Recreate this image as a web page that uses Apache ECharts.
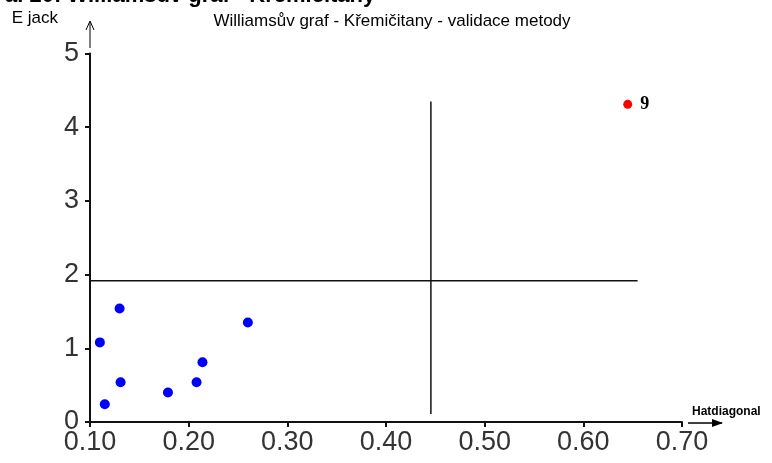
<!DOCTYPE html>
<html>
<head>
<meta charset="utf-8">
<script src="https://cdn.jsdelivr.net/npm/echarts@6/dist/echarts.min.js"></script>
<style>
  html, body { margin: 0; padding: 0; background: #fff; }
  #chart { width: 772px; height: 463px; }
</style>
</head>
<body>
<div id="chart"></div>
<script>
// leverage (hat diagonal) vs. jackknife residual
const inliers = [
  [0.130, 1.54],
  [0.110, 1.08],
  [0.260, 1.35],
  [0.214, 0.81],
  [0.131, 0.54],
  [0.208, 0.54],
  [0.179, 0.40],
  [0.115, 0.24]
];
const outliers = [[0.645, 4.31]];
const outlierLabels = ["9"];
const hatLimit = 0.4455;
const hatLimitRange = [0.11, 4.35];
const residLimit = 1.915;
const residLimitRange = [0.10, 0.655];
const xTicks = { min: 0.10, max: 0.70, step: 0.10 };
const yTicks = { min: 0, max: 5, step: 1 };

const chart = echarts.init(document.getElementById("chart"));
const font = "'Liberation Sans', Arial, sans-serif";

chart.setOption({
  animation: false,
  backgroundColor: "#fff",
  title: [
    {
      text: "al 20: Williamsův graf - Křemičitany",
      left: 0,
      top: -20,
      textStyle: { fontFamily: font, fontSize: 22, fontWeight: "bold", color: "#000" }
    },
    {
      text: "Williamsův graf - Křemičitany - validace metody",
      left: 387,
      textAlign: "center",
      top: 8,
      textStyle: { fontFamily: font, fontSize: 17, fontWeight: "normal", color: "#000" }
    }
  ],
  grid: { left: 90, right: 90, top: 53.5, bottom: 41 },
  xAxis: {
    type: "value",
    min: xTicks.min,
    max: xTicks.max,
    interval: xTicks.step,
    name: "Hatdiagonal",
    nameLocation: "end",
    nameGap: 10,
    nameTextStyle: {
      fontFamily: font, fontSize: 12, fontWeight: "bold", color: "#000",
      align: "left", verticalAlign: "bottom", padding: [0, 0, 4, 0]
    },
    axisLine: { lineStyle: { color: "#111", width: 2 } },
    axisTick: { length: 5, inside: false, lineStyle: { color: "#111", width: 2 } },
    axisLabel: {
      fontFamily: font, fontSize: 27, color: "#333", margin: 7,
      formatter: v => v.toFixed(2)
    },
    splitLine: { show: false }
  },
  yAxis: {
    type: "value",
    min: yTicks.min,
    max: yTicks.max,
    interval: yTicks.step,
    name: "E jack",
    nameLocation: "end",
    nameGap: 35,
    nameTextStyle: {
      fontFamily: font, fontSize: 17, color: "#000",
      align: "right", verticalAlign: "middle", padding: [0, 32, 0, 0]
    },
    axisLine: { show: true, lineStyle: { color: "#111", width: 2 } },
    axisTick: { show: true, length: 5, lineStyle: { color: "#111", width: 2 } },
    axisLabel: { fontFamily: font, fontSize: 27, color: "#333", margin: 11, padding: [0, 0, 8, 0] },
    splitLine: { show: false }
  },
  graphic: [
    { type: "line", shape: { x1: 90, y1: 48, x2: 90, y2: 22 }, style: { stroke: "#000", lineWidth: 1 } },
    { type: "polyline", shape: { points: [[86, 30], [90, 21], [94, 30]] }, style: { stroke: "#000", lineWidth: 1, fill: null } },
    { type: "line", shape: { x1: 688, y1: 423, x2: 722, y2: 423 }, style: { stroke: "#000", lineWidth: 1.5 } },
    { type: "polygon", shape: { points: [[712, 419], [723, 423], [712, 427]] }, style: { fill: "#000" } }
  ],
  series: [
    {
      type: "line",
      data: hatLimitRange.map(y => [hatLimit, y]),
      symbol: "none",
      lineStyle: { color: "#111", width: 1.5 },
      z: 1
    },
    {
      type: "line",
      data: residLimitRange.map(x => [x, residLimit]),
      symbol: "none",
      lineStyle: { color: "#111", width: 1.5 },
      z: 1
    },
    {
      type: "scatter",
      data: inliers,
      symbolSize: 10,
      itemStyle: { color: "#0000ff", opacity: 1 },
      z: 3
    },
    {
      type: "scatter",
      data: outliers,
      symbolSize: 9,
      itemStyle: { color: "#ff0000", opacity: 1 },
      label: {
        show: true,
        position: "right",
        distance: 8,
        formatter: p => outlierLabels[p.dataIndex],
        fontFamily: "'Liberation Serif', 'DejaVu Serif', serif",
        fontSize: 18,
        fontWeight: "bold",
        color: "#000"
      },
      z: 3
    }
  ]
});
</script>
</body>
</html>
